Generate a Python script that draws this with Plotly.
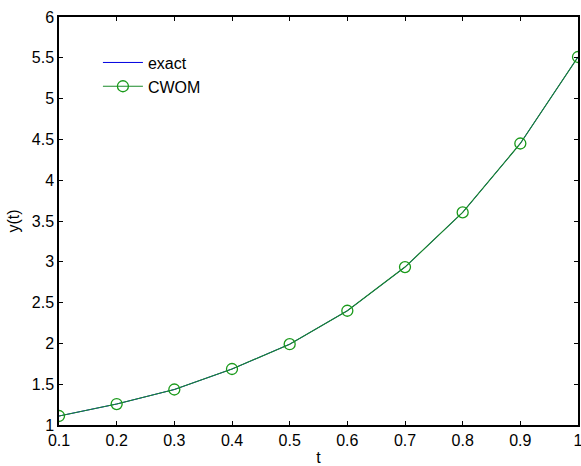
import plotly.graph_objects as go

t = [0.1, 0.2, 0.3, 0.4, 0.5, 0.6, 0.7, 0.8, 0.9, 1.0]
exact = [1.110, 1.257, 1.435, 1.686, 1.990, 2.400, 2.935, 3.605, 4.450, 5.510]
cwom = [1.110, 1.257, 1.435, 1.686, 1.990, 2.400, 2.935, 3.605, 4.450, 5.510]

x_ticks = [0.1, 0.2, 0.3, 0.4, 0.5, 0.6, 0.7, 0.8, 0.9, 1.0]
x_tick_text = ["0.1", "0.2", "0.3", "0.4", "0.5", "0.6", "0.7", "0.8", "0.9", "1"]
y_ticks = [1, 1.5, 2, 2.5, 3, 3.5, 4, 4.5, 5, 5.5, 6]
y_tick_text = ["1", "1.5", "2", "2.5", "3", "3.5", "4", "4.5", "5", "5.5", "6"]

FONT = "Liberation Sans, Arial"

fig = go.Figure()
fig.add_trace(go.Scatter(x=t, y=exact, mode="lines", name="exact",
                         line=dict(color="#0000e0", width=1)))
fig.add_trace(go.Scatter(x=t, y=cwom, mode="lines+markers", name="CWOM",
                         line=dict(color="#1a8a2a", width=1.2),
                         marker=dict(symbol="circle-open", size=11, color="#1a9a1a",
                                     line=dict(width=1.3, color="#1a9a1a"))))

axis_common = dict(showline=True, linecolor="black", linewidth=1.5, mirror="ticks",
                   ticks="inside", ticklen=4, tickcolor="black", tickwidth=1,
                   showgrid=False, zeroline=False, automargin=False,
                   ticklabeloverflow="allow",
                   tickfont=dict(family=FONT, size=16, color="black"))

fig.update_xaxes(range=[0.1, 1.0], tickvals=x_ticks, ticktext=x_tick_text,
                 title=dict(text="t", font=dict(family=FONT, size=16, color="black"),
                            standoff=6),
                 **axis_common)
fig.update_yaxes(range=[1, 6], tickvals=y_ticks, ticktext=y_tick_text,
                 title=dict(text="y(t)", font=dict(family=FONT, size=16, color="black"),
                            standoff=8),
                 **axis_common)

fig.update_layout(
    width=581, height=466,
    margin=dict(l=59, r=3, t=17, b=41),
    paper_bgcolor="white", plot_bgcolor="white",
    showlegend=True,
    legend=dict(x=0.075, y=0.93, xanchor="left", yanchor="top",
                bgcolor="rgba(0,0,0,0)", borderwidth=0, itemwidth=40,
                font=dict(family=FONT, size=16, color="black"),
                tracegroupgap=0),
)

fig.write_html("out.html")
